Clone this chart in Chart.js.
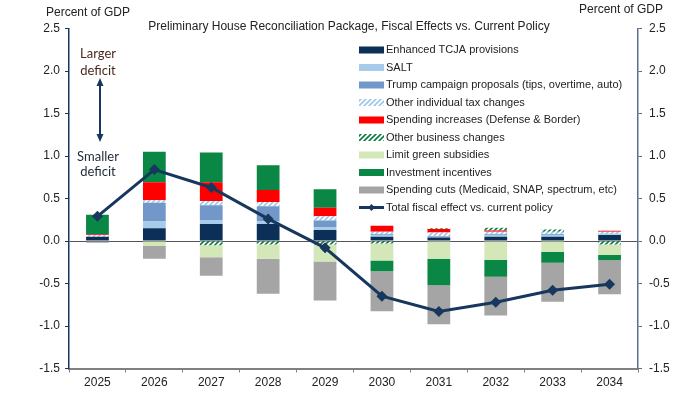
<!DOCTYPE html>
<html>
<head>
<meta charset="utf-8">
<script src="https://cdn.jsdelivr.net/npm/chart.js@4"></script>
<style>
  html, body { margin: 0; padding: 0; background: #fff; }
  canvas { display: block; }
</style>
</head>
<body>
<canvas id="fiscalChart" width="700" height="394"></canvas>
<script>
// Data (percent of GDP)
const years = ['2025', '2026', '2027', '2028', '2029', '2030', '2031', '2032', '2033', '2034'];
const tcja          = [0.05, 0.15, 0.20, 0.20, 0.13, 0.05, 0.04, 0.05, 0.05, 0.07];
const salt          = [0.00, 0.08, 0.04, 0.03, 0.03, 0.02, 0.01, 0.02, 0.02, 0.01];
const trumpCampaign = [0.00, 0.22, 0.18, 0.18, 0.08, 0.01, 0.01, 0.01, 0.01, 0.005];
const otherIndiv    = [0.02, 0.03, 0.05, 0.05, 0.05, 0.03, 0.04, 0.03, 0.03, 0.025];
const spendingInc   = [0.01, 0.21, 0.22, 0.14, 0.10, 0.07, 0.04, 0.015, 0.00, 0.01];
const otherBusiness = [0.00, 0.00, -0.05, -0.04, -0.04, -0.03, 0.01, 0.03, 0.025, -0.04];
const limitGreen    = [0.00, -0.06, -0.14, -0.17, -0.20, -0.20, -0.21, -0.22, -0.13, -0.125];
const investment    = [0.23, 0.36, 0.35, 0.29, 0.22, -0.125, -0.31, -0.20, -0.125, -0.06];
const spendingCuts  = [-0.02, -0.15, -0.22, -0.41, -0.46, -0.47, -0.46, -0.455, -0.46, -0.40];
const totalEffect   = [0.29, 0.84, 0.63, 0.26, -0.08, -0.65, -0.83, -0.72, -0.58, -0.51];

const yTicks = { min: -1.5, max: 2.5, step: 0.5 };

const chartTitle = 'Preliminary House Reconciliation Package, Fiscal Effects vs. Current Policy';
const axisUnit = 'Percent of GDP';
const upperNote = ['Larger', 'deficit'];
const lowerNote = ['Smaller', 'deficit'];

const FONT = '"Liberation Sans", Arial, sans-serif';
const NAVY = '#17375e';

// diagonal hatch fill for the "other ..." categories
function makeHatch(color) {
    const c = document.createElement('canvas');
    c.width = 5; c.height = 5;
    const g = c.getContext('2d');
    g.fillStyle = '#ffffff';
    g.fillRect(0, 0, 5, 5);
    g.strokeStyle = color;
    g.lineWidth = 1.6;
    g.beginPath();
    g.moveTo(0, 5); g.lineTo(5, 0);
    g.moveTo(-2.5, 2.5); g.lineTo(2.5, -2.5);
    g.moveTo(2.5, 7.5); g.lineTo(7.5, 2.5);
    g.stroke();
    return g.createPattern(c, 'repeat');
}

function barSet(label, data, color) {
    return {
        type: 'bar',
        label: label,
        data: data,
        backgroundColor: color,
        borderWidth: 0,
        stack: 'effects',
        order: 2,
        barPercentage: 0.4,
        categoryPercentage: 1.0
    };
}

// draws the titles, the deficit arrow and the legend
const overlayPlugin = {
    id: 'overlay',
    afterDraw(chart) {
        const ctx = chart.ctx;
        ctx.save();
        ctx.textBaseline = 'middle';
        ctx.fillStyle = '#222';
        ctx.font = '12px ' + FONT;
        ctx.textAlign = 'center';
        ctx.fillText(chartTitle, 349, 27);
        ctx.fillText(axisUnit, 88, 13);
        ctx.fillText(axisUnit, 621, 10);

        // larger / smaller deficit notes
        ctx.font = '13px Lato, "Open Sans", sans-serif';
        ctx.fillStyle = '#4a2a20';
        ctx.fillText(upperNote[0], 98, 54);
        ctx.fillText(upperNote[1], 98, 71);
        ctx.fillStyle = '#1e2a38';
        ctx.fillText(lowerNote[0], 98, 157);
        ctx.fillText(lowerNote[1], 98, 172);

        // double-headed arrow
        ctx.strokeStyle = NAVY;
        ctx.fillStyle = NAVY;
        ctx.lineWidth = 2;
        ctx.beginPath();
        ctx.moveTo(100, 82); ctx.lineTo(100, 138);
        ctx.stroke();
        ctx.beginPath();
        ctx.moveTo(100, 78); ctx.lineTo(96.5, 86); ctx.lineTo(103.5, 86); ctx.closePath();
        ctx.fill();
        ctx.beginPath();
        ctx.moveTo(100, 142); ctx.lineTo(96.5, 134); ctx.lineTo(103.5, 134); ctx.closePath();
        ctx.fill();

        // legend
        ctx.font = '11px ' + FONT;
        ctx.textAlign = 'left';
        const x0 = 359, x1 = 384, rowTop = 50, rowGap = 17.5;
        chart.data.datasets.forEach((ds, i) => {
            const y = rowTop + i * rowGap;
            if (ds.type === 'line') {
                ctx.strokeStyle = ds.borderColor;
                ctx.lineWidth = 3;
                ctx.beginPath();
                ctx.moveTo(x0, y); ctx.lineTo(x1, y);
                ctx.stroke();
                ctx.fillStyle = ds.borderColor;
                ctx.beginPath();
                ctx.moveTo(371.5, y - 3.5); ctx.lineTo(375, y); ctx.lineTo(371.5, y + 3.5); ctx.lineTo(368, y);
                ctx.closePath();
                ctx.fill();
            } else {
                ctx.fillStyle = ds.backgroundColor;
                ctx.fillRect(x0, y - 3.5, x1 - x0, 7);
            }
            ctx.fillStyle = '#222';
            ctx.fillText(ds.label, 386, y);
        });
        ctx.restore();
    }
};

const ctx = document.getElementById('fiscalChart').getContext('2d');
new Chart(ctx, {
    data: {
        labels: years,
        datasets: [
            barSet('Enhanced TCJA provisions', tcja, '#0c2f57'),
            barSet('SALT', salt, '#a7cbea'),
            barSet('Trump campaign proposals (tips, overtime, auto)', trumpCampaign, '#7198c8'),
            barSet('Other individual tax changes', otherIndiv, makeHatch('#9fc5e8')),
            barSet('Spending increases (Defense & Border)', spendingInc, '#ff0000'),
            barSet('Other business changes', otherBusiness, makeHatch('#0b7d3e')),
            barSet('Limit green subsidies', limitGreen, '#d3e7b9'),
            barSet('Investment incentives', investment, '#0a8645'),
            barSet('Spending cuts (Medicaid, SNAP, spectrum, etc)', spendingCuts, '#a5a5a5'),
            {
                type: 'line',
                label: 'Total fiscal effect vs. current policy',
                data: totalEffect,
                borderColor: NAVY,
                backgroundColor: NAVY,
                borderWidth: 3,
                pointStyle: 'rectRot',
                pointRadius: 5.5,
                pointBackgroundColor: NAVY,
                pointBorderWidth: 0,
                stack: 'total',
                order: 1,
                tension: 0
            }
        ]
    },
    options: {
        responsive: false,
        animation: false,
        layout: { padding: { top: 28.5, bottom: 0, left: 0, right: 0 } },
        plugins: {
            legend: { display: false },
            title: { display: false },
            tooltip: { enabled: false }
        },
        scales: {
            x: {
                stacked: true,
                grid: { offset: true, drawOnChartArea: false, tickLength: 4, color: '#808080' },
                border: { color: '#808080', width: 2 },
                ticks: { color: '#222', font: { family: FONT, size: 12 }, padding: 3, maxRotation: 0 },
                afterFit(scale) { scale.height = 25.5; }
            },
            y: {
                stacked: true,
                position: 'left',
                min: yTicks.min,
                max: yTicks.max,
                grid: {
                    drawOnChartArea: true,
                    tickLength: 4,
                    tickColor: NAVY,
                    lineWidth: 1,
                    color: c => (c.tick && c.tick.value === 0) ? '#555555' : 'rgba(0,0,0,0)'
                },
                border: { color: NAVY, width: 1.5 },
                ticks: {
                    stepSize: yTicks.step,
                    color: '#222',
                    padding: 5,
                    font: { family: FONT, size: 12 },
                    callback: v => v.toFixed(1)
                },
                afterFit(scale) { scale.width = 69; }
            },
            y2: {
                position: 'right',
                min: yTicks.min,
                max: yTicks.max,
                grid: { drawOnChartArea: false, tickLength: 4, color: '#5b7089' },
                border: { color: '#5b7089', width: 1.5 },
                ticks: {
                    stepSize: yTicks.step,
                    color: '#222',
                    padding: 7,
                    font: { family: FONT, size: 12 },
                    callback: v => v.toFixed(1)
                },
                afterFit(scale) { scale.width = 62; }
            }
        }
    },
    plugins: [overlayPlugin]
});
</script>
</body>
</html>
